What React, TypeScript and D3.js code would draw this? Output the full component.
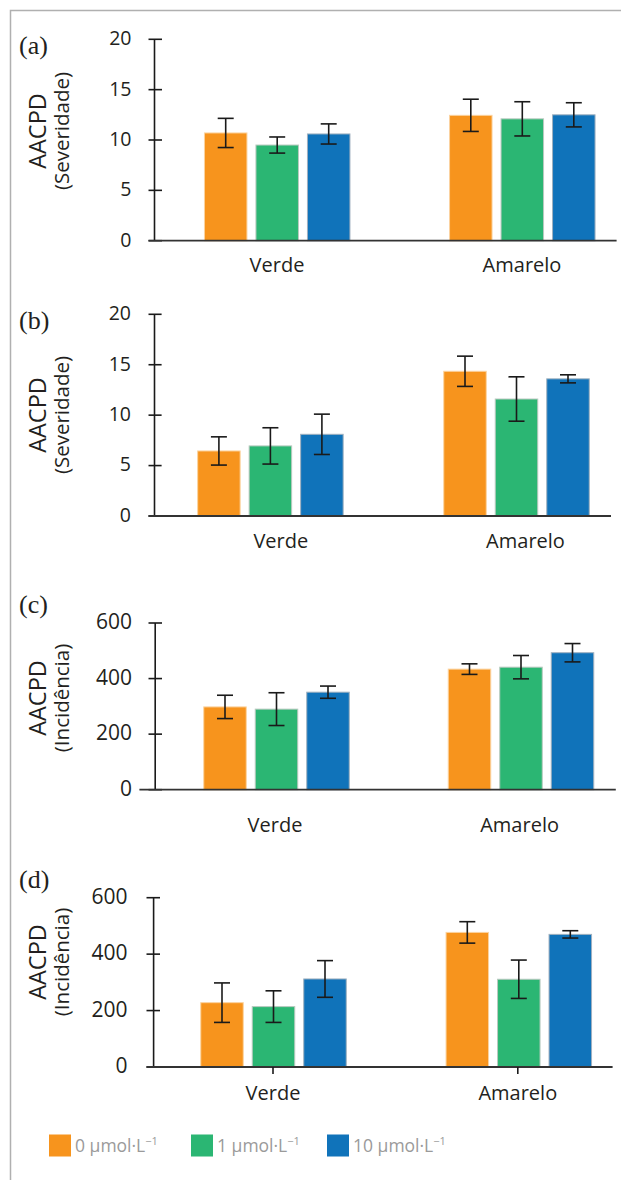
import React from 'react';
import { scaleLinear, scaleBand, scalePoint } from 'd3';

// categories and series
const categories = ['Verde', 'Amarelo'];
const seriesKeys = ['0', '1', '10'];
const seriesColors = ['#F7941D', '#2BB673', '#1073BA'];
const seriesEdges = ['#FBD3A0', '#B9C9BF', '#9FB0BF'];

// values per panel: [category][series]
const meansA = [[10.7, 9.5, 10.6], [12.45, 12.1, 12.5]];
const errsA = [[1.45, 0.8, 1.0], [1.6, 1.7, 1.2]];
const meansB = [[6.45, 6.95, 8.1], [14.35, 11.6, 13.6]];
const errsB = [[1.4, 1.8, 2.0], [1.5, 2.2, 0.4]];
const meansC = [[298, 290, 351], [434, 441, 493]];
const errsC = [[42, 59, 22], [19, 42, 33]];
const meansD = [[228, 214, 312], [477, 311, 470]];
const errsD = [[70, 56, 65], [38, 68, 13]];

const ticksSev = [0, 5, 10, 15, 20];
const ticksInc = [0, 200, 400, 600];

const panels = [
  { letter: '(a)', means: meansA, errs: errsA, ticks: ticksSev, max: 20, title: '(Severidade)',
    yTop: 39.3, y0: 240.7, axisX: 154.5, tickL: 148.5, tickR: 162, lineL: 148.5, lineR: 616.6,
    centers: [277.2, 522.3], labels: [277, 522], labelY: 271.5, titleY: 131, letterY: 54, tickLabelX: 131.5, tickFont: 19.5, xTicks: false },
  { letter: '(b)', means: meansB, errs: errsB, ticks: ticksSev, max: 20, title: '(Severidade)',
    yTop: 314.3, y0: 516, axisX: 154.5, tickL: 148.5, tickR: 161.6, lineL: 148.5, lineR: 611,
    centers: [270.4, 516.5], labels: [280.8, 525.5], labelY: 548, titleY: 415, letterY: 329, tickLabelX: 131, tickFont: 19.5, xTicks: false },
  { letter: '(c)', means: meansC, errs: errsC, ticks: ticksInc, max: 600, title: '(Incidência)',
    yTop: 623, y0: 789.7, axisX: 155.2, tickL: 148.5, tickR: 162, lineL: 139.4, lineR: 615.8,
    centers: [276.5, 521], labels: [275, 519.6], labelY: 831.5, titleY: 698, letterY: 613, tickLabelX: 132, tickFont: 21, xTicks: false },
  { letter: '(d)', means: meansD, errs: errsD, ticks: ticksInc, max: 600, title: '(Incidência)',
    yTop: 897.7, y0: 1067, axisX: 153.6, tickL: 146.5, tickR: 160, lineL: 146.5, lineR: 612.6,
    centers: [273.5, 518.8], labels: [273, 517.8], labelY: 1100, titleY: 962, letterY: 888, tickLabelX: 127.5, tickFont: 21, xTicks: true },
];

const legendX = [49, 191, 327];
const sans = "'Open Sans', 'DejaVu Sans', sans-serif";

const barW = 42.5;
const step = 51.5;

const Panel = ({ p }: { p: any }) => {
  const y = scaleLinear().domain([0, p.max]).range([p.y0, p.yTop]);
  const xBar = scalePoint<string>().domain(categories).range(p.centers);
  const xLab = scalePoint<string>().domain(categories).range(p.labels);
  const inner = scaleBand<string>()
    .domain(seriesKeys)
    .range([-(step * 3 - (step - barW)) / 2, (step * 3 - (step - barW)) / 2])
    .paddingInner((step - barW) / step);

  return (
    <g>
      <text x={19} y={p.letterY} fontFamily="'Liberation Serif', 'DejaVu Serif', serif" fontSize={26} fill="#231f20">{p.letter}</text>
      {/* y title */}
      <g transform={`translate(46,${p.titleY}) rotate(-90)`}>
        <text textAnchor="middle" fontFamily={sans} fontSize={23.5} fill="#231f20">AACPD</text>
      </g>
      <g transform={`translate(69,${p.titleY}) rotate(-90)`}>
        <text textAnchor="middle" fontFamily={sans} fontSize={20.5} fill="#231f20">{p.title}</text>
      </g>
      {/* bars */}
      {categories.map((c, ci) =>
        seriesKeys.map((s, si) => {
          const cx = (xBar(c) as number) + (inner(s) as number);
          const v = p.means[ci][si];
          return (
            <rect key={c + s} x={cx} y={y(v)} width={inner.bandwidth()} height={p.y0 - y(v)}
              fill={seriesColors[si]} stroke={seriesEdges[si]} strokeWidth={1} />
          );
        })
      )}
      {/* error bars */}
      {categories.map((c, ci) =>
        seriesKeys.map((s, si) => {
          const mx = (xBar(c) as number) + (inner(s) as number) + inner.bandwidth() / 2;
          const v = p.means[ci][si];
          const e = p.errs[ci][si];
          const hi = y(v + e);
          const lo = y(v - e);
          return (
            <g key={'e' + c + s} stroke="#1a1a1a" strokeWidth={1.6} fill="none">
              <line x1={mx} x2={mx} y1={hi} y2={lo} />
              <line x1={mx - 8} x2={mx + 8} y1={hi} y2={hi} />
              <line x1={mx - 8} x2={mx + 8} y1={lo} y2={lo} />
            </g>
          );
        })
      )}
      {/* y axis */}
      <line x1={p.axisX} x2={p.axisX} y1={p.yTop} y2={p.y0} stroke="#1a1a1a" strokeWidth={1.6} />
      {p.ticks.map((t: number) => (
        <g key={t}>
          <line x1={p.tickL} x2={p.tickR} y1={y(t)} y2={y(t)} stroke="#1a1a1a" strokeWidth={1.6} />
          <text x={p.tickLabelX} y={y(t)} dy="0.3em" textAnchor="end" fontFamily={sans} fontSize={p.tickFont} fill="#231f20">{t}</text>
        </g>
      ))}
      {/* x axis */}
      <line x1={p.lineL} x2={p.lineR} y1={p.y0} y2={p.y0} stroke="#333" strokeWidth={1.8} />
      {p.xTicks && categories.map(c => (
        <line key={'xt' + c} x1={xLab(c)} x2={xLab(c)} y1={p.y0} y2={p.y0 + 7} stroke="#1a1a1a" strokeWidth={1.6} />
      ))}
      {categories.map(c => (
        <text key={'xl' + c} x={xLab(c)} y={p.labelY} textAnchor="middle" fontFamily={sans} fontSize={20} fill="#231f20">{c}</text>
      ))}
    </g>
  );
};

export default function App() {
  return (
    <svg width={621} height={1180} style={{ position: 'absolute', left: 0, top: 0, background: '#fff' }}>
      <path d="M10.5,1180 V10.5 H621" fill="none" stroke="#b0b0b0" strokeWidth={1.5} />
      {panels.map(p => <Panel key={p.letter} p={p} />)}
      {/* legend */}
      {seriesKeys.map((s, i) => (
        <g key={'lg' + s}>
          <rect x={legendX[i]} y={1134.5} width={22} height={22} fill={seriesColors[i]} />
          <text x={legendX[i] + 26} y={1152} fontFamily={sans} fontSize={17.5} fill="#9a9a9a">
            {s} µmol·L<tspan dy={-7} fontSize={11}>−1</tspan>
          </text>
        </g>
      ))}
    </svg>
  );
}
